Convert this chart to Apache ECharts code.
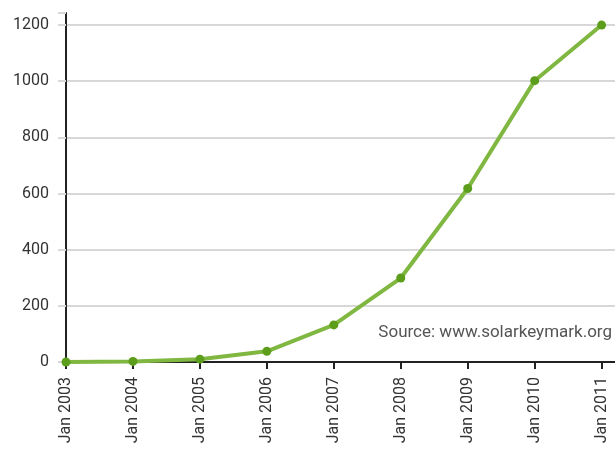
<!DOCTYPE html>
<html>
<head>
<meta charset="utf-8">
<script src="https://cdn.jsdelivr.net/npm/echarts@6/dist/echarts.min.js"></script>
<style>
  html, body { margin: 0; padding: 0; background: #fff; }
  #chart { width: 615px; height: 449px; }
</style>
</head>
<body>
<div id="chart"></div>
<script>
// Installed collectors certified under Solar Keymark, by year
const categories = ['Jan 2003', 'Jan 2004', 'Jan 2005', 'Jan 2006', 'Jan 2007',
                    'Jan 2008', 'Jan 2009', 'Jan 2010', 'Jan 2011'];
const certificates = [0, 2, 10, 38, 132, 299, 618, 1002, 1200];
const yTicks = [0, 200, 400, 600, 800, 1000, 1200];
const sourceNote = 'Source: www.solarkeymark.org';

const chart = echarts.init(document.getElementById('chart'), null, { renderer: 'canvas' });

const points = categories.map((c, i) => [i, certificates[i]]);
const font = 'Roboto, "Noto Sans", sans-serif';

chart.setOption({
  animation: false,
  backgroundColor: '#fff',
  grid: { left: 66, right: 0, top: 13, bottom: 87 },
  xAxis: {
    type: 'value',
    min: 0,
    max: 8.2,
    interval: 1,
    axisLine: { show: true, onZero: false, lineStyle: { color: '#222', width: 2 } },
    axisTick: { show: true, length: 7, lineStyle: { color: '#222', width: 2 } },
    splitLine: { show: false },
    axisLabel: {
      rotate: 90,
      margin: 15,
      color: '#333',
      fontFamily: font,
      fontSize: 16,
      showMaxLabel: false,
      formatter: v => Number.isInteger(v) && categories[v] ? categories[v] : ''
    }
  },
  yAxis: {
    type: 'value',
    min: 0,
    max: 1243,
    interval: 200,
    axisLine: { show: true, lineStyle: { color: '#222', width: 2 } },
    axisTick: { show: true, length: 8, lineStyle: { color: '#d8d8d8', width: 2 } },
    splitLine: {
      show: true,
      lineStyle: {
        color: ['#d8d8d8', '#d8d8d8', '#d8d8d8', '#d8d8d8', '#d8d8d8', '#d8d8d8', '#d8d8d8', 'rgba(0,0,0,0)'],
        width: 2
      }
    },
    axisLabel: {
      margin: 17,
      color: '#333',
      fontFamily: font,
      fontSize: 16,
      formatter: v => yTicks.includes(v) ? String(v) : ''
    }
  },
  series: [{
    type: 'line',
    data: points,
    symbol: 'circle',
    symbolSize: 9,
    lineStyle: { color: '#80b741', width: 4 },
    itemStyle: { color: '#5c9e1c' },
    z: 5
  }],
  graphic: [{
    type: 'text',
    right: 3,
    top: 324,
    style: {
      text: sourceNote,
      fill: '#555',
      font: '17px ' + font
    }
  }]
});
</script>
</body>
</html>
